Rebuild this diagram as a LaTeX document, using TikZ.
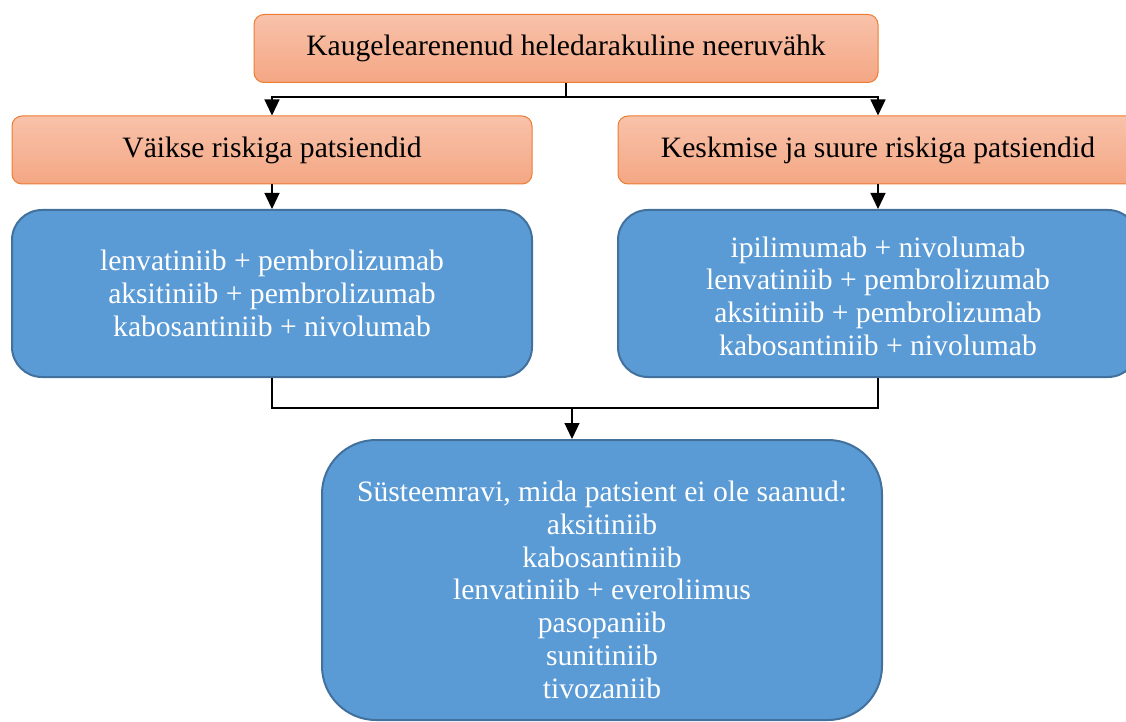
\documentclass[tikz,border=0pt]{standalone}
\usepackage{fontspec}
\setmainfont{Liberation Serif}
\usepackage{tikz}
\usetikzlibrary{arrows.meta,positioning}
\definecolor{orTop}{HTML}{F8C2AA}
\definecolor{orBot}{HTML}{F4A784}
\definecolor{orLine}{HTML}{ED7D31}
\definecolor{blFill}{HTML}{5B9BD5}
\definecolor{blLine}{HTML}{41719C}
\begin{document}
\begin{tikzpicture}[
  x=0.5pt, y=-0.5pt,
  obox/.style={draw=orLine, line width=0.5pt, top color=orTop, bottom color=orBot,
               rounded corners=5pt, align=center, minimum height=34pt, inner sep=2pt,
               font=\fontsize{14.8}{17}\selectfont},
  bbox/.style={draw=blLine, line width=1pt, fill=blFill, text=white, align=center,
               inner sep=2pt, font=\fontsize{14.8}{16.4}\selectfont},
  ln/.style={line width=0.6pt, black},
  arr/.style={ln, -{Triangle[length=8pt, width=7.5pt]}}
]
\useasboundingbox (0,0) rectangle (1126,722);

% orange headers
\node[obox, minimum width=312pt] (disease) at (566,48.5) {Kaugelearenenud heledarakuline neeruvähk};
\node[obox, minimum width=260pt] (lowrisk) at (272,150) {Väikse riskiga patsiendid};
\node[obox, minimum width=260pt] (midrisk) at (878,150) {Keskmise ja suure riskiga patsiendid};

% blue treatment boxes
\node[bbox, rounded corners=15pt, minimum width=260pt, minimum height=83.5pt] (lowtx) at (272,293.5)
  {lenvatiniib + pembrolizumab\\aksitiniib + pembrolizumab\\kabosantiniib + nivolumab};
\node[bbox, rounded corners=15pt, minimum width=260pt, minimum height=83.5pt] (midtx) at (878,293.5)
  {\rule{0pt}{13pt}ipilimumab + nivolumab\\lenvatiniib + pembrolizumab\\aksitiniib + pembrolizumab\\kabosantiniib + nivolumab};
\node[bbox, rounded corners=27pt, minimum width=280pt, minimum height=140pt] (second) at (602,580)
  {\rule{0pt}{20pt}Süsteemravi, mida patsient ei ole saanud:\\aksitiniib\\kabosantiniib\\lenvatiniib + everoliimus\\pasopaniib\\sunitiniib\\tivozaniib};

% connectors
\coordinate (topbar) at (566,97);
\coordinate (botbar) at (572,408);
\draw[ln] (disease.south) -- (topbar);
\draw[arr] (topbar) -| (lowrisk.north);
\draw[arr] (topbar) -| (midrisk.north);
\draw[arr] (lowrisk) -- (lowtx);
\draw[arr] (midrisk) -- (midtx);
\draw[ln] (lowtx.south) |- (botbar);
\draw[ln] (midtx.south) |- (botbar);
\draw[arr] (botbar) -- (botbar |- second.north);
\end{tikzpicture}
\end{document}
